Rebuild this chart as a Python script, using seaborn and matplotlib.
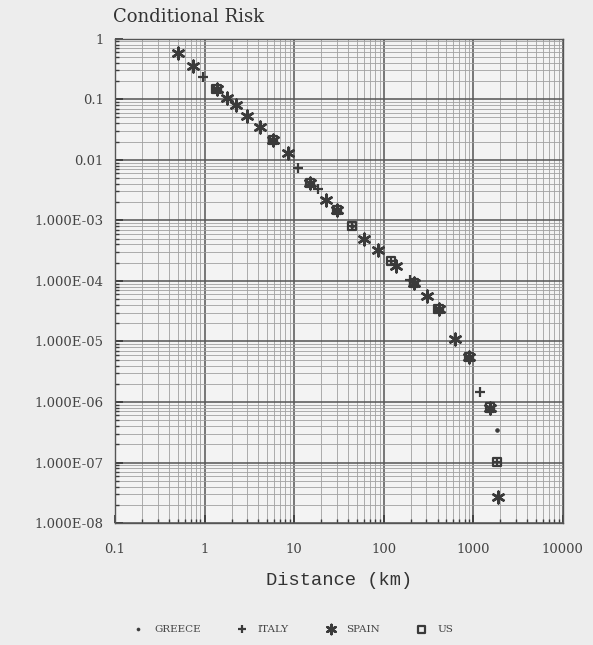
import numpy as np
import pandas as pd
import matplotlib
matplotlib.use("Agg")
import matplotlib.pyplot as plt
import matplotlib.ticker as mticker
import seaborn as sns

# Values (distance in km, conditional risk)
greece_x = [1.36, 5.8, 30, 44, 410, 890, 1850]
greece_y = [0.149, 0.021, 0.0015, 0.00081, 3.4e-5, 5.6e-6, 3.5e-7]

italy_x = [0.97, 1.36, 5.8, 11.1, 18.5, 30, 44, 120, 195, 410, 890, 1200, 1850]
italy_y = [0.23, 0.149, 0.021, 0.0073, 0.0033, 0.0015, 0.00081, 0.00021,
           1.04e-4, 3.4e-5, 5.6e-6, 1.48e-6, 1.03e-7]

spain_x = [0.5, 0.74, 1.36, 1.8, 2.23, 3.0, 4.2, 5.8, 8.6, 15.1, 22.9, 30,
           60, 87, 139, 220, 305, 410, 620, 890, 1530, 1900]
spain_y = [0.58, 0.36, 0.149, 0.105, 0.081, 0.052, 0.035, 0.021, 0.0129,
           0.0041, 0.0022, 0.0015, 0.00049, 0.00033, 0.000173, 9.3e-5,
           5.7e-5, 3.4e-5, 1.09e-5, 5.6e-6, 8.1e-7, 2.7e-8]

us_x = [1.36, 5.8, 15.1, 30, 44, 120, 220, 410, 890, 1530, 1850]
us_y = [0.149, 0.021, 0.0041, 0.0015, 0.00081, 0.00021, 9.3e-5, 3.4e-5,
        5.6e-6, 8.1e-7, 1.03e-7]

x_ticks = [0.1, 1, 10, 100, 1000, 10000]
x_labels = ["0.1", "1", "10", "100", "1000", "10000"]
y_ticks = [1, 0.1, 0.01, 1e-3, 1e-4, 1e-5, 1e-6, 1e-7, 1e-8]
y_labels = ["1", "0.1", "0.01", "1.000E-03", "1.000E-04", "1.000E-05",
            "1.000E-06", "1.000E-07", "1.000E-08"]

sns.set_theme(style="white")
plt.rcParams["font.family"] = ["DejaVu Serif"]

ink = "#3a3a3a"
paper = "#ededed"

fig = plt.figure(figsize=(5.93, 6.45), dpi=100, facecolor=paper)
ax = fig.add_axes([0.194, 0.189, 0.755, 0.751])
ax.set_facecolor("#f3f3f3")

sns.scatterplot(x=greece_x, y=greece_y, marker=".", s=30, color=ink,
                edgecolor=ink, ax=ax, label="GREECE", zorder=5)
sns.scatterplot(x=italy_x, y=italy_y, marker="+", s=60, color=ink,
                linewidth=1.6, ax=ax, label="ITALY", zorder=5)
sns.scatterplot(x=spain_x, y=spain_y, marker=(6, 2, 0), s=70, color=ink,
                linewidth=1.8, ax=ax, label="SPAIN", zorder=5)
sns.scatterplot(x=us_x, y=us_y, marker="s", s=35, facecolor="none",
                edgecolor=ink, linewidth=1.6, ax=ax, label="US", zorder=5)

ax.set_xscale("log")
ax.set_yscale("log")
ax.set_xlim(0.1, 10000)
ax.set_ylim(1e-8, 1)

ax.xaxis.set_major_locator(mticker.FixedLocator(x_ticks))
ax.xaxis.set_major_formatter(mticker.FixedFormatter(x_labels))
ax.yaxis.set_major_locator(mticker.FixedLocator(y_ticks))
ax.yaxis.set_major_formatter(mticker.FixedFormatter(y_labels))
ax.xaxis.set_minor_locator(mticker.LogLocator(base=10, subs=np.arange(2, 10)))
ax.yaxis.set_minor_locator(mticker.LogLocator(base=10, subs=np.arange(2, 10)))
ax.xaxis.set_minor_formatter(mticker.NullFormatter())
ax.yaxis.set_minor_formatter(mticker.NullFormatter())

ax.grid(which="major", color="#555555", linewidth=1.1)
ax.grid(which="minor", color="#a0a0a0", linewidth=0.6)
ax.set_axisbelow(True)

ax.tick_params(which="both", direction="in", colors=ink, labelcolor="#444444",
               labelsize=9.5, bottom=True, left=True)
ax.tick_params(which="major", length=6, pad=8)
ax.tick_params(axis="x", which="major", pad=14)
ax.tick_params(which="minor", length=3)
for side in ax.spines.values():
    side.set_color("#555555")
    side.set_linewidth(1.0)

ax.set_xlabel("Distance (km)", fontsize=13.5, color="#333333",
              family="Liberation Mono", labelpad=12)
ax.set_ylabel("")
fig.text(113 / 593, 1 - 17 / 645, "Conditional Risk", fontsize=13,
         color="#333333", ha="left", va="center")

ax.legend(loc="center", bbox_to_anchor=(0.49, 0.024),
          bbox_transform=fig.transFigure, ncol=4, frameon=False,
          fontsize=7.5, handletextpad=0.5, columnspacing=3.0,
          labelcolor="#444444", markerscale=0.8)

fig.savefig("out.png", dpi=100, facecolor=paper)
